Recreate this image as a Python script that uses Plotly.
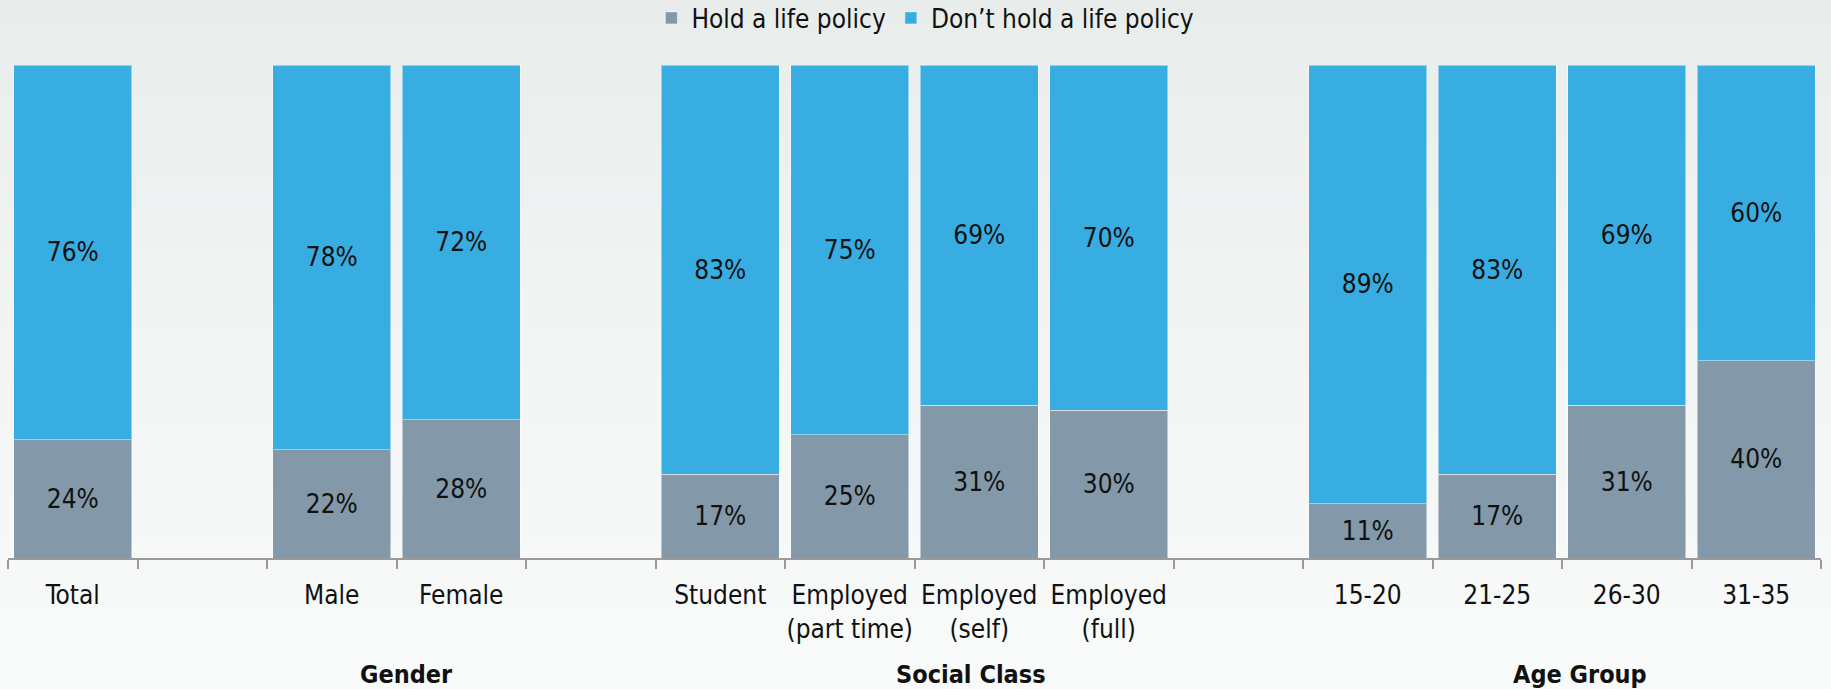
import plotly.graph_objects as go

# Survey shares (%) of people holding / not holding a life policy
categories = ["Total", "Male", "Female", "Student", "Employed (part time)",
              "Employed (self)", "Employed (full)", "15-20", "21-25", "26-30", "31-35"]
tick_labels = ["Total", "Male", "Female", "Student", "Employed<br>(part time)",
               "Employed<br>(self)", "Employed<br>(full)", "15-20", "21-25", "26-30", "31-35"]
hold = [24, 22, 28, 17, 25, 31, 30, 11, 17, 31, 40]
dont_hold = [76, 78, 72, 83, 75, 69, 70, 89, 83, 69, 60]

# Slot order on the x axis, with empty slots separating the groups
slot_order = ["Total", "gap1", "Male", "Female", "gap2", "Student", "Employed (part time)",
              "Employed (self)", "Employed (full)", "gap3", "15-20", "21-25", "26-30", "31-35"]
group_names = ["Gender", "Social Class", "Age Group"]
group_pos = [2.58, 6.94, 11.64]

label_of = dict(zip(categories, tick_labels))
slot_text = [label_of.get(s, "") for s in slot_order]

FONT = "DejaVu Sans Condensed, DejaVu Sans, sans-serif"
GREY = "#8399a9"
BLUE = "#38ade2"

W, H = 1831, 689
M_L, M_R, M_T, M_B = 8, 10, 65, 131
plot_h = H - M_T - M_B

fig = go.Figure()
fig.add_trace(go.Bar(
    x=categories, y=hold, name="Hold a life policy",
    marker=dict(color=GREY, line=dict(color="rgba(255,255,255,0.45)", width=1)),
    text=[f"{v}%" for v in hold], textposition="inside", insidetextanchor="middle",
    textangle=0, textfont=dict(family=FONT, size=26, color="#111111"),
))
fig.add_trace(go.Bar(
    x=categories, y=dont_hold, name="Don\u2019t hold a life policy",
    marker=dict(color=BLUE, line=dict(color="rgba(255,255,255,0.45)", width=1)),
    text=[f"{v}%" for v in dont_hold], textposition="inside", insidetextanchor="middle",
    textangle=0, textfont=dict(family=FONT, size=26, color="#111111"),
))

# Soft vertical background gradient behind the whole chart
def mix(c0, c1, t):
    return tuple(round(a + (b - a) * t) for a, b in zip(c0, c1))

stops = [(0.0, (232, 236, 235)), (0.5, (243, 245, 245)), (1.0, (249, 250, 250))]

def grad(t):
    for (t0, c0), (t1, c1) in zip(stops[:-1], stops[1:]):
        if t <= t1:
            return mix(c0, c1, (t - t0) / (t1 - t0))
    return stops[-1][1]

shapes = []
n_bands = 80
for i in range(n_bands):
    top_px = H * i / n_bands - (20 if i == 0 else 0)
    bot_px = H * (i + 1) / n_bands + (1 if i < n_bands - 1 else 20)
    y1 = (H - M_B - top_px) / plot_h
    y0 = (H - M_B - bot_px) / plot_h
    r, g, b = grad((i + 0.5) / n_bands)
    shapes.append(dict(type="rect", xref="paper", yref="paper", x0=-0.02, x1=1.02,
                       y0=y0, y1=y1, fillcolor=f"rgb({r},{g},{b})",
                       line=dict(width=0), layer="below"))

annotations = []
for name, pos in zip(group_names, group_pos):
    annotations.append(dict(x=pos, xref="x", y=(H - M_B - 674) / plot_h, yref="paper",
                            text=f"<b>{name}</b>", showarrow=False,
                            xanchor="center", yanchor="middle",
                            font=dict(family=FONT, size=25, color="#111111")))

fig.update_layout(
    width=W, height=H,
    margin=dict(l=M_L, r=M_R, t=M_T, b=M_B, autoexpand=False),
    barmode="stack", bargap=0.09,
    paper_bgcolor="rgb(249,250,250)", plot_bgcolor="rgba(0,0,0,0)",
    font=dict(family=FONT, size=26, color="#111111"),
    shapes=shapes, annotations=annotations,
    legend=dict(orientation="h", x=0.506, xanchor="center",
                yref="container", y=1 - 18 / H, yanchor="middle",
                font=dict(family=FONT, size=26, color="#111111"),
                bgcolor="rgba(0,0,0,0)", traceorder="normal"),
    xaxis=dict(type="category", categoryorder="array", categoryarray=slot_order,
               tickmode="array", tickvals=slot_order, ticktext=slot_text,
               tickson="boundaries", ticks="outside", ticklen=9, tickwidth=1.5,
               tickangle=0, automargin=False, ticklabelstandoff=13,
               tickcolor="#9a9a9a", showline=True, linecolor="#9a9a9a", linewidth=1.5,
               showgrid=False, range=[-0.5, 13.5],
               tickfont=dict(family=FONT, size=26, color="#111111")),
    yaxis=dict(range=[0, 100], visible=False, showgrid=False, zeroline=False),
)

fig.write_html("out.html")
